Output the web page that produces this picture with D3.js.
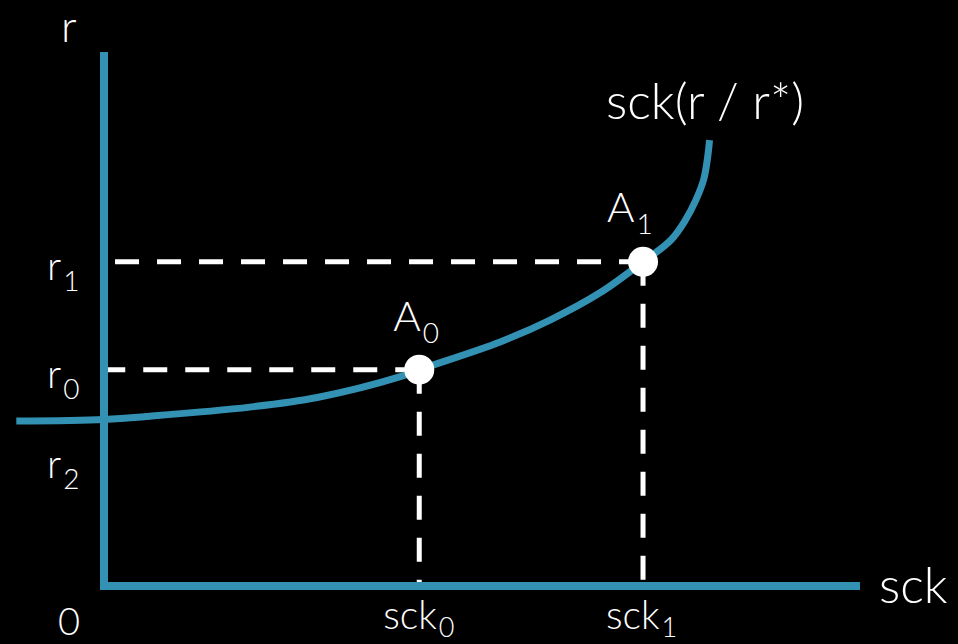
<!DOCTYPE html>
<html>
<head>
<meta charset="utf-8">
<script src="https://cdn.jsdelivr.net/npm/d3@7"></script>
<style>
  html, body { margin: 0; padding: 0; background: #000; }
  svg { display: block; }
  text { font-family: Lato, "Open Sans", sans-serif; font-weight: 300; fill: #fff; }
</style>
</head>
<body>
<svg id="chart" width="958" height="644"></svg>
<script>
// Supply curve sck(r / r*): points along the curve (sck, r)
const curveSck = [-1.16, 0, 0.61, 1.93, 2.82, 3.92, 4.17, 5.24, 5.90, 6.56, 7.13, 7.50, 7.69, 7.83, 7.93, 7.98, 8.01];
const curveR   = [3.09, 3.12, 3.18, 3.35, 3.53, 3.92, 4.05, 4.57, 4.98, 5.49, 6.07, 6.48, 6.85, 7.23, 7.60, 7.98, 8.35];

// Equilibrium points
const pointNames = ["A", "A"];
const pointSubs  = ["0", "1"];
const pointSck   = [4.17, 7.13];
const pointR     = [4.05, 6.07];

// Rate labels on the vertical axis
const rSubs   = ["1", "0", "2"];
const rValues = [6.07, 4.05, 2.36];

// Capital-stock labels on the horizontal axis
const sckSubs = ["0", "1"];

// Axis names
const xName = "sck";
const yName = "r";
const originName = "0";
const curveName = "sck(r / r*)";

const teal = "#3392b3";
const svg = d3.select("#chart");
const W = 958, H = 644;

svg.append("rect").attr("width", W).attr("height", H).attr("fill", "#000");

const x = d3.scaleLinear().domain([0, 10]).range([104, 860]);
const y = d3.scaleLinear().domain([0, 10]).range([586, 52]);

// Dashed guides from each point to the axes
const dash = "24,18";
pointSck.forEach((s, i) => {
  const r = pointR[i];
  svg.append("line")
    .attr("x1", x(s)).attr("y1", y(r))
    .attr("x2", x(0) + 4).attr("y2", y(r))
    .attr("stroke", "#fff").attr("stroke-width", 5)
    .attr("stroke-dasharray", dash);
  svg.append("line")
    .attr("x1", x(s)).attr("y1", y(r))
    .attr("x2", x(s)).attr("y2", y(0) - 4)
    .attr("stroke", "#fff").attr("stroke-width", 5)
    .attr("stroke-dasharray", dash);
});

// Axes
svg.append("line")
  .attr("x1", x(0)).attr("y1", y(10))
  .attr("x2", x(0)).attr("y2", y(0) + 4)
  .attr("stroke", teal).attr("stroke-width", 8);
svg.append("line")
  .attr("x1", x(0) - 4).attr("y1", y(0))
  .attr("x2", x(10)).attr("y2", y(0))
  .attr("stroke", teal).attr("stroke-width", 8);

// Curve
const pts = curveSck.map((s, i) => [s, curveR[i]]);
const line = d3.line()
  .x(d => x(d[0])).y(d => y(d[1]))
  .curve(d3.curveCatmullRom.alpha(0.5));
svg.append("path")
  .attr("d", line(pts))
  .attr("fill", "none")
  .attr("stroke", teal)
  .attr("stroke-width", 7);

// Points
svg.selectAll("circle.pt")
  .data(pointSck)
  .join("circle")
  .attr("class", "pt")
  .attr("cx", d => x(d))
  .attr("cy", (d, i) => y(pointR[i]))
  .attr("r", 15)
  .attr("fill", "#fff");

// Text with a subscript
function subText(tx, ty, main, sub, size, subSize, subDy) {
  const t = svg.append("text")
    .attr("x", tx).attr("y", ty)
    .attr("font-size", size);
  t.append("tspan").text(main);
  t.append("tspan").attr("font-size", subSize).attr("dy", subDy).attr("dx", 2).text(sub);
  return t;
}

// Point labels
subText(x(pointSck[0]) - 26, y(pointR[0]) - 39, pointNames[0], pointSubs[0], 42, 28, 12);
subText(x(pointSck[1]) - 36, y(pointR[1]) - 40, pointNames[1], pointSubs[1], 42, 28, 12);

// r labels
rValues.forEach((v, i) => {
  subText(47, y(v) + 18, yName, rSubs[i], 40, 28, 11);
});

// sck labels under the guides
subText(x(pointSck[0]) - 36, 629, xName, sckSubs[0], 39, 27, 8);
subText(x(pointSck[1]) - 37, 629, xName, sckSubs[1], 39, 27, 8);

// Origin
svg.append("text").attr("x", 69).attr("y", 635).attr("font-size", 38)
  .attr("text-anchor", "middle").text(originName);

// Axis names
svg.append("text").attr("x", 61).attr("y", 42).attr("font-size", 44).text(yName);
svg.append("text").attr("x", 879).attr("y", 603).attr("font-size", 50).text(xName);
svg.append("text").attr("x", 606).attr("y", 119).attr("font-size", 50).text(curveName);
</script>
</body>
</html>
